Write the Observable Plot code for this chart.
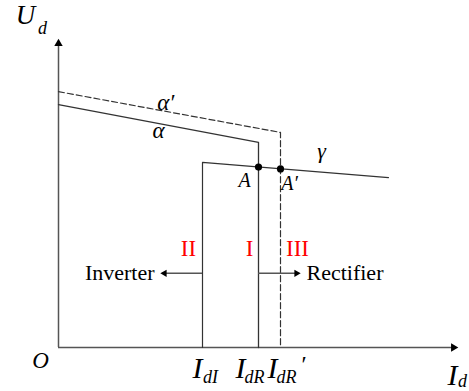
<!DOCTYPE html>
<html><head><meta charset="utf-8">
<script src="https://cdn.jsdelivr.net/npm/d3@7"></script>
<script src="https://cdn.jsdelivr.net/npm/@observablehq/plot@0.6"></script>
<style>body{margin:0;background:#fff} svg{display:block}</style>
</head><body><div id="chart"></div>
<script>
// Schematic Ud–Id characteristic (arbitrary units)
const IdI = 3.6, IdR = 5.0, IdRp = 5.55;      // current orders
const axisMaxX = 10, axisMaxY = 10;
// rectifier constant-alpha characteristic (solid) then constant current
const alphaX  = [0, IdR, IdR];
const alphaY  = [7.86, 6.64, 0];
// shifted characteristic alpha' (dashed)
const alphaPX = [0, IdRp, IdRp];
const alphaPY = [8.28, 6.96, 0];
// inverter constant current + constant-gamma characteristic
const gammaX  = [IdI, IdI, 8.25];
const gammaY  = [0, 5.99, 5.5];
// operating points
const opX = [IdR, IdRp];
const opY = [5.84, 5.78];
// arrow level and tips
const arrowY = 2.4;
const inverterTip = 2.55, rectifierTip = 6.05;
const regionY = 3.2;

const serif = "Liberation Serif";
const T = (x, y, text, o = {}) => Plot.text([0], {
  x: () => x, y: () => y, text: () => text,
  textAnchor: "middle", lineAnchor: "middle",
  fontFamily: serif, fontSize: 20, fill: "black", ...o
});

const chart = Plot.plot({
  width: 469, height: 391, margin: 0,
  x: {domain: [0, axisMaxX], range: [58, 458], axis: null},
  y: {domain: [0, axisMaxY], range: [347, 38], axis: null},
  style: {background: "#fff", fontFamily: serif},
  marks: [
    // axes
    Plot.ruleY([0], {x1: 0, x2: axisMaxX - 0.1, stroke: "#555", strokeWidth: 1.5}),
    Plot.ruleX([0], {y1: 0, y2: axisMaxY - 0.15, stroke: "#555", strokeWidth: 1.5}),
    Plot.dot([0], {x: () => 0, y: () => axisMaxY, symbol: "triangle", r: 3.1, fill: "black", stroke: null, dy: 5}),
    Plot.dot([0], {x: () => axisMaxX, y: () => 0, symbol: "triangle", r: 3.1, fill: "black", stroke: null, rotate: 90, dx: -5}),
    // characteristics
    Plot.line(alphaPX.map((x, i) => [x, alphaPY[i]]), {stroke: "#333", strokeWidth: 1.2, strokeDasharray: "6,3"}),
    Plot.line(alphaX.map((x, i) => [x, alphaY[i]]), {stroke: "#333", strokeWidth: 1.3}),
    Plot.line(gammaX.map((x, i) => [x, gammaY[i]]), {stroke: "#333", strokeWidth: 1.2}),
    // arrows
    Plot.ruleY([arrowY], {x1: IdI, x2: inverterTip + 0.05, stroke: "#555", strokeWidth: 1.5}),
    Plot.ruleY([arrowY], {x1: IdR, x2: rectifierTip - 0.05, stroke: "#555", strokeWidth: 1.5}),
    Plot.dot([0], {x: () => inverterTip, y: () => arrowY, symbol: "triangle", r: 2.7, fill: "black", stroke: null, rotate: -90, dx: 4}),
    Plot.dot([0], {x: () => rectifierTip, y: () => arrowY, symbol: "triangle", r: 2.7, fill: "black", stroke: null, rotate: 90, dx: -4}),
    // operating points
    Plot.dot(opX.map((x, i) => [x, opY[i]]), {r: 3.6, fill: "black", stroke: null}),
    // labels
    T(0, axisMaxY, "U", {fontStyle: "italic", fontSize: 27, dx: -33, dy: -23}),
    T(0, axisMaxY, "d", {fontStyle: "italic", fontSize: 18, dx: -16, dy: -10}),
    T(0, 0, "O", {fontStyle: "italic", fontSize: 23, dx: -18, dy: 13}),
    T(axisMaxX, 0, "I", {fontStyle: "italic", fontSize: 30, dx: -6, dy: 28}),
    T(axisMaxX, 0, "d", {fontStyle: "italic", fontSize: 18, dx: 4, dy: 34}),
    T(IdI, 0, "I", {fontStyle: "italic", fontSize: 30, dx: -5, dy: 21}),
    T(IdI, 0, "dI", {fontStyle: "italic", fontSize: 18, dx: 8, dy: 30}),
    T(IdR, 0, "I", {fontStyle: "italic", fontSize: 30, dx: -18, dy: 21}),
    T(IdR, 0, "dR", {fontStyle: "italic", fontSize: 18, dx: -4, dy: 30}),
    T(IdRp, 0, "I", {fontStyle: "italic", fontSize: 30, dx: -8, dy: 21}),
    T(IdRp, 0, "dR", {fontStyle: "italic", fontSize: 18, dx: 6, dy: 30}),
    T(IdRp, 0, "′", {fontStyle: "italic", fontSize: 24, dx: 22, dy: 17}),
    T(2.68, 7.93, "α′", {fontStyle: "italic", fontSize: 23}),
    T(2.5, 7.02, "α", {fontStyle: "italic", fontSize: 23}),
    T(6.575, 6.375, "γ", {fontStyle: "italic", fontSize: 22}),
    T(opX[0], opY[0], "A", {fontStyle: "italic", fontSize: 20, dx: -14, dy: 14}),
    T(opX[1], opY[1], "A′", {fontStyle: "italic", fontSize: 20, dx: 9, dy: 15}),
    T(IdI, regionY, "II", {fill: "red", fontSize: 23, dx: -14}),
    T(IdR, regionY, "I", {fill: "red", fontSize: 23, dx: -9}),
    T(IdRp, regionY, "III", {fill: "red", fontSize: 23, dx: 17}),
    T(inverterTip, arrowY, "Inverter", {fontSize: 22, textAnchor: "end", dx: -6}),
    T(rectifierTip, arrowY, "Rectifier", {fontSize: 22, textAnchor: "start", dx: 6})
  ]
});
document.getElementById("chart").appendChild(chart);
</script>
</body></html>
